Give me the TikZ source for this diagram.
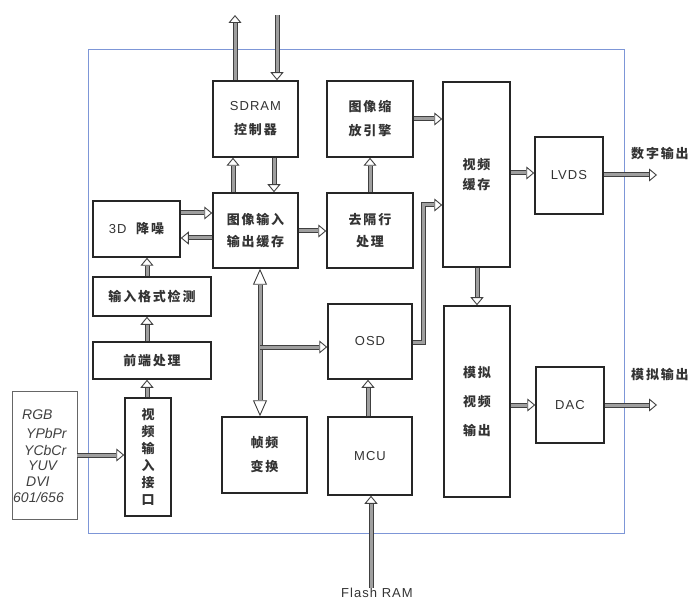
\documentclass[tikz,border=0pt]{standalone}
\usepackage{fontspec}
\setmainfont{Liberation Sans}
\newfontfamily\cjk[LetterSpace=14]{Noto Sans CJK SC}
\newfontfamily\lat[LetterSpace=8]{Liberation Sans}
\usetikzlibrary{arrows.meta}
\definecolor{framebl}{RGB}{125,150,215}
\begin{document}
\begin{tikzpicture}[x=1pt,y=-1pt,
  >={Triangle[open,fill=white,line width=0.9pt,length=8pt,width=13pt]},
  blk/.style={draw=black!85, line width=1.5pt, inner sep=0pt, align=center, text=black!80, font=\cjk\bfseries\fontsize{13}{24}\selectfont},
  latblk/.style={font=\lat\fontsize{13}{15}\selectfont},
  busline/.style={draw=black!75, double=gray!75, double distance=3pt, line width=1pt},
  bus/.style={busline, ->},
  bus2/.style={busline, {Triangle[open,fill=white,line width=0.9pt,length=16pt,width=14pt]}-{Triangle[open,fill=white,line width=0.9pt,length=16pt,width=14pt]}},
  lbl/.style={inner sep=0pt, text=black!80, font=\cjk\bfseries\fontsize{13}{15}\selectfont},
  src/.style={inner sep=0pt, anchor=west, text=black!75, font=\itshape\fontsize{14}{16}\selectfont}
]
\useasboundingbox (0,0) rectangle (698,601);
% frame
\draw[draw=framebl, line width=0.9pt] (88,49) rectangle (624,533);

% blocks
\node[blk, minimum width=85pt, minimum height=76pt] (sdram) at (255.5,119) {{\lat\mdseries SDRAM}\\控制器};
\node[blk, minimum width=86pt, minimum height=76pt] (scale) at (370,119) {图像缩\\放引擎};
\node[blk, minimum width=87pt, minimum height=56pt] (nr) at (136.5,229) {{\lat\mdseries 3D}\ \ 降噪};
\node[blk, minimum width=85pt, minimum height=75pt, font=\cjk\bfseries\fontsize{13}{22}\selectfont] (buf) at (255.5,230.5) {图像输入\\输出缓存};
\node[blk, minimum width=86pt, minimum height=75pt, font=\cjk\bfseries\fontsize{13}{22}\selectfont] (deint) at (370,230.5) {去隔行\\处理};
\node[blk, minimum width=67pt, minimum height=185pt, font=\cjk\bfseries\fontsize{13}{20}\selectfont] (vbuf) at (476.5,174.5) {视频\\缓存};
\node[blk, minimum width=68pt, minimum height=77pt, latblk] (lvds) at (569,175.5) {LVDS};
\node[blk, minimum width=118pt, minimum height=39pt] (fmt) at (152,296.5) {输入格式检测};
\node[blk, minimum width=118pt, minimum height=37pt] (front) at (152,360.5) {前端处理};
\node[blk, minimum width=46pt, minimum height=118pt, font=\cjk\bfseries\fontsize{13}{17}\selectfont] (vin) at (148,457) {视\\频\\输\\入\\接\\口};
\node[draw=black!60, line width=0.8pt, minimum width=65pt, minimum height=128pt, inner sep=0pt] (srcbox) at (44.5,455) {};
\node[blk, minimum width=85pt, minimum height=76pt] (frc) at (264.5,455) {帧频\\变换};
\node[blk, minimum width=84pt, minimum height=75pt, latblk] (osd) at (370,341.5) {OSD};
\node[blk, minimum width=84pt, minimum height=78pt, latblk] (mcu) at (370,456) {MCU};
\node[blk, minimum width=66pt, minimum height=191pt, font=\cjk\bfseries\fontsize{13}{29}\selectfont] (aout) at (477,401.5) {模拟\\视频\\输出};
\node[blk, minimum width=68pt, minimum height=76pt, latblk] (dac) at (570,405) {DAC};

% source list
\node[src] (s1) at (22,415) {RGB};
\node[src] (s2) at (26,433) {YPbPr};
\node[src] (s3) at (24,450) {YCbCr};
\node[src] (s4) at (28,466) {YUV};
\node[src] (s5) at (26,482) {DVI};
\node[src] (s6) at (13,497) {601/656};

% labels
\node[lbl, anchor=west] (dout) at (631,154) {数字输出};
\node[lbl, anchor=west] (aoutl) at (631,375) {模拟输出};
\node[inner sep=0pt, text=black!80, font=\lat\fontsize{13}{15}\selectfont] (flash) at (377,593) {Flash RAM};

% coordinates
\coordinate (t1) at (235,15);
\coordinate (t2) at (277,15);
\coordinate (o1) at (657,175);
\coordinate (o2) at (657,405);
\coordinate (br) at (260,347);
\coordinate (bend1) at (423,342);
\coordinate (bend2) at (423,205);

% connectors
\draw[bus] (sdram.north -| t1) -- (t1);
\draw[bus] (t2) -- (sdram.north -| t2);
\draw[bus] (buf.north -| 233,0) -- (sdram.south -| 233,0);
\draw[bus] (sdram.south -| 274,0) -- (buf.north -| 274,0);
\draw[bus] (deint.north -| 370,0) -- (scale.south -| 370,0);
\draw[bus] (nr.east |- 0,213) -- (buf.west |- 0,213);
\draw[bus] (buf.west |- 0,238) -- (nr.east |- 0,238);
\draw[bus] (buf.east |- 0,231) -- (deint.west |- 0,231);
\draw[bus] (scale.east |- 0,119) -- (vbuf.west |- 0,119);
\draw[bus] (osd.east |- bend1) -- (bend1) -- (bend2) -- (vbuf.west |- bend2);
\draw[bus] (vbuf.south -| 477,0) -- (aout.north -| 477,0);
\draw[bus] (vbuf.east |- 0,173) -- (lvds.west |- 0,173);
\draw[bus] (lvds.east |- o1) -- (o1);
\draw[bus] (aout.east |- 0,405) -- (dac.west |- 0,405);
\draw[bus] (dac.east |- o2) -- (o2);
\draw[bus] (mcu.north -| 368,0) -- (osd.south -| 368,0);
\draw[bus] (flash.north -| 371,0) -- (mcu.south -| 371,0);
\draw[bus2] (buf.south -| br) -- (frc.north -| br);
\draw[bus] (br) -- (osd.west |- br);
\draw[bus] (fmt.north -| 147,0) -- (nr.south -| 147,0);
\draw[bus] (front.north -| 147,0) -- (fmt.south -| 147,0);
\draw[bus] (vin.north -| 147,0) -- (front.south -| 147,0);
\draw[bus] (srcbox.east |- 0,455) -- (vin.west |- 0,455);
\end{tikzpicture}
\end{document}
